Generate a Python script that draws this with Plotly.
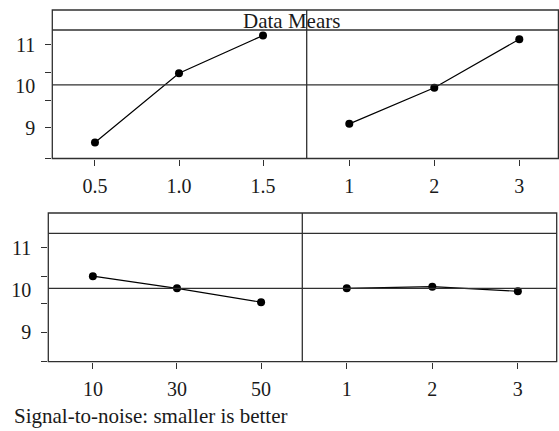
import plotly.graph_objects as go

# ---- data ----
f1_levels = [0.5, 1.0, 1.5]
f1_sn = [8.65, 10.32, 11.23]
f2_levels = [1, 2, 3]
f2_sn = [9.10, 9.97, 11.14]
f3_levels = [10, 30, 50]
f3_sn = [10.33, 10.04, 9.71]
f4_levels = [1, 2, 3]
f4_sn = [10.04, 10.08, 9.97]
overall_mean = 10.04
ytick_vals = [11, 10, 9]
header_title = "Data Mears"
footer_text = "Signal-to-noise: smaller is better"

W, H = 559, 431
FONT = "Liberation Serif"
LINE = "#303030"


def px(x):
    return x / W


def py(y):
    return 1 - y / H


# row geometry in pixels
top = dict(left=52.3, div=306.7, right=558.4, top=10, bottom=158.5, yr=[8.265, 11.843], head=11.361)
bot = dict(left=48.3, div=302.3, right=556.7, top=213, bottom=361.7, yr=[8.293, 11.833], head=11.35)

fig = go.Figure()
panels = [
    (f1_levels, f1_sn, "x", "y"),
    (f2_levels, f2_sn, "x2", "y"),
    (f3_levels, f3_sn, "x3", "y2"),
    (f4_levels, f4_sn, "x4", "y2"),
]
for xs, ys, xa, ya in panels:
    fig.add_trace(go.Scatter(
        x=xs, y=ys, xaxis=xa, yaxis=ya, mode="lines+markers",
        line=dict(color="black", width=1.2),
        marker=dict(color="black", size=8),
        showlegend=False, hoverinfo="skip",
    ))

tickfont = dict(family=FONT, size=20, color="#1a1a1a")


def xaxis(dom, rng, tv, tt, anchor):
    return dict(domain=dom, range=rng, anchor=anchor, tickmode="array",
                tickvals=tv, ticktext=tt, ticks="outside", ticklen=6,
                tickwidth=1, tickcolor=LINE, showgrid=False, zeroline=False,
                showline=False, tickfont=tickfont, ticklabelstandoff=3,
                fixedrange=True)


def yaxis(dom, rng, anchor):
    minor_vals = [11, 10.333, 9.667, 9, rng[0] + 0.01]
    return dict(domain=dom, range=rng, anchor=anchor, tickmode="array",
                tickvals=ytick_vals, ticktext=[str(v) for v in ytick_vals],
                ticks="outside", ticklen=6, tickcolor="rgba(0,0,0,0)",
                minor=dict(tickmode="array", tickvals=minor_vals, ticks="outside",
                           ticklen=6, tickwidth=1, tickcolor=LINE, showgrid=False),
                showgrid=False, zeroline=False, showline=False,
                tickfont=tickfont, ticklabelstandoff=6, fixedrange=True)


fig.update_layout(
    width=W, height=H, margin=dict(l=0, r=0, t=0, b=0),
    paper_bgcolor="white", plot_bgcolor="white",
    xaxis=xaxis([px(top["left"]), px(top["div"])], [0.246, 1.76],
                f1_levels, ["0.5", "1.0", "1.5"], "y"),
    xaxis2=xaxis([px(top["div"]), px(top["right"])], [0.499, 3.46],
                 f2_levels, ["1", "2", "3"], "y"),
    xaxis3=xaxis([px(bot["left"]), px(bot["div"])], [-0.6, 59.8],
                 f3_levels, ["10", "30", "50"], "y2"),
    xaxis4=xaxis([px(bot["div"]), px(bot["right"])], [0.48, 3.454],
                 f4_levels, ["1", "2", "3"], "y2"),
    yaxis=yaxis([py(top["bottom"]), py(top["top"])], top["yr"], "x"),
    yaxis2=yaxis([py(bot["bottom"]), py(bot["top"])], bot["yr"], "x3"),
)

shapes = []
for row, yref in ((top, "y"), (bot, "y2")):
    shapes.append(dict(type="rect", xref="paper", yref="paper",
                       x0=px(row["left"]), x1=px(row["right"]),
                       y0=py(row["bottom"]), y1=py(row["top"]),
                       line=dict(color=LINE, width=1.3)))
    shapes.append(dict(type="line", xref="paper", yref="paper",
                       x0=px(row["div"]), x1=px(row["div"]),
                       y0=py(row["bottom"]), y1=py(row["top"]),
                       line=dict(color=LINE, width=1.3)))
    shapes.append(dict(type="line", xref="paper", yref=yref,
                       x0=px(row["left"]), x1=px(row["right"]),
                       y0=row["head"], y1=row["head"],
                       line=dict(color=LINE, width=1.3)))
    shapes.append(dict(type="line", xref="paper", yref=yref,
                       x0=px(row["left"]), x1=px(row["right"]),
                       y0=overall_mean, y1=overall_mean,
                       line=dict(color=LINE, width=1.3)))
fig.update_layout(shapes=shapes)

fig.add_annotation(text=header_title, xref="paper", yref="paper",
                   x=px(291), y=py(20.5), xanchor="center", yanchor="middle",
                   showarrow=False, font=dict(family=FONT, size=21, color="#1a1a1a"))
fig.add_annotation(text=footer_text, xref="paper", yref="paper",
                   x=px(12), y=py(416), xanchor="left", yanchor="middle",
                   showarrow=False, font=dict(family=FONT, size=21, color="#1a1a1a"))

fig.write_html("out.html", config={"displayModeBar": False},
               post_script="document.body.style.margin='0';")
